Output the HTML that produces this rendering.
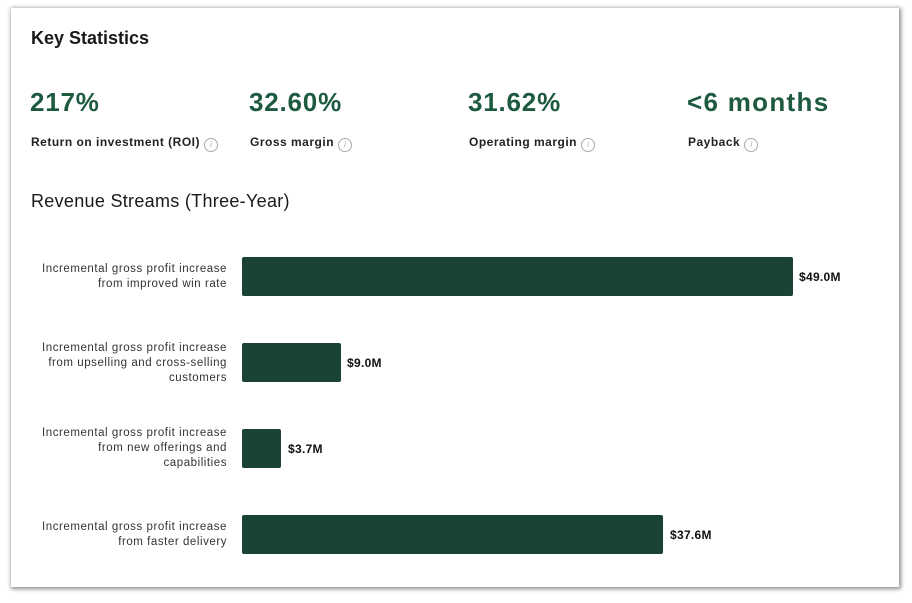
<!DOCTYPE html>
<html><head><style>
body{margin:0;width:912px;height:603px;background:#fff;font-family:"Liberation Sans",sans-serif;position:relative;overflow:hidden}
.card{position:absolute;left:11px;top:8px;width:888px;height:579px;background:#fff;box-shadow:1px 1px 4px 1px rgba(0,0,0,.45)}
.a{position:absolute;white-space:nowrap}
.h{font-size:18px;font-weight:bold;color:#1a1a1a}
.big{font-size:26px;font-weight:bold;color:#1e5a40;top:87px;letter-spacing:0.8px}
.lab{font-size:12px;font-weight:bold;color:#222;top:135px;letter-spacing:0.5px}
.i{display:inline-block;width:12px;height:12px;border:1px solid #aaa;border-radius:50%;font-size:8px;color:#aaa;text-align:center;line-height:12px;font-style:italic;font-weight:normal;vertical-align:-1px;margin-left:4px;letter-spacing:0}
.bl{font-size:11.5px;color:#333;text-align:right;right:685px;line-height:15px;letter-spacing:0.55px}
.bar{position:absolute;left:242px;height:39px;background:#1b4334;border-radius:2px}
.v{font-size:12px;font-weight:bold;color:#111;letter-spacing:0.3px}
</style></head><body>
<div class="card"></div>
<div class="a h" style="left:31px;top:28px">Key Statistics</div>
<div class="a big" style="left:30px">217%</div>
<div class="a big" style="left:249px">32.60%</div>
<div class="a big" style="left:468px">31.62%</div>
<div class="a big" style="left:687px;letter-spacing:1.3px">&lt;6 months</div>
<div class="a lab" style="left:31px">Return on investment (ROI)<span class="i">i</span></div>
<div class="a lab" style="left:250px">Gross margin<span class="i">i</span></div>
<div class="a lab" style="left:469px">Operating margin<span class="i">i</span></div>
<div class="a lab" style="left:688px">Payback<span class="i">i</span></div>
<div class="a h" style="left:31px;top:191px;font-weight:normal;font-size:18px;letter-spacing:0.3px">Revenue Streams (Three-Year)</div>
<div class="a bl" style="top:262px">Incremental gross profit increase<br>from improved win rate</div>
<div class="a bl" style="top:341px">Incremental gross profit increase<br>from upselling and cross-selling<br>customers</div>
<div class="a bl" style="top:426px">Incremental gross profit increase<br>from new offerings and<br>capabilities</div>
<div class="a bl" style="top:520px">Incremental gross profit increase<br>from faster delivery</div>
<div class="bar" style="top:257px;width:551px"></div>
<div class="bar" style="top:343px;width:99px"></div>
<div class="bar" style="top:429px;width:39px"></div>
<div class="bar" style="top:515px;width:421px"></div>
<div class="a v" style="left:799px;top:270px">$49.0M</div>
<div class="a v" style="left:347px;top:356px">$9.0M</div>
<div class="a v" style="left:288px;top:442px">$3.7M</div>
<div class="a v" style="left:670px;top:528px">$37.6M</div>
</body></html>
